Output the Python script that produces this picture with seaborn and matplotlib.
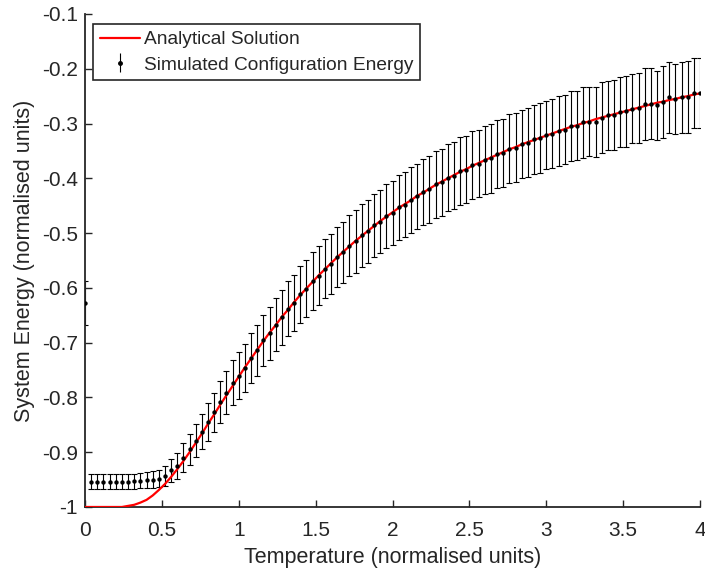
import numpy as np
import pandas as pd
import matplotlib
matplotlib.use("Agg")
import matplotlib.pyplot as plt
import seaborn as sns
from matplotlib.lines import Line2D

# ---------------- data ----------------
temps_analytic = [0.00, 0.04, 0.08, 0.12, 0.16, 0.20, 0.24, 0.28, 0.32, 0.36, 0.40,
                  0.44, 0.48, 0.52, 0.56, 0.60, 0.64, 0.68, 0.72, 0.76, 0.80,
                  0.84, 0.88, 0.92, 0.96, 1.00, 1.04, 1.08, 1.12, 1.16, 1.20,
                  1.24, 1.28, 1.32, 1.36, 1.40, 1.44, 1.48, 1.52, 1.56, 1.60,
                  1.64, 1.68, 1.72, 1.76, 1.80, 1.84, 1.88, 1.92, 1.96, 2.00,
                  2.04, 2.08, 2.12, 2.16, 2.20, 2.24, 2.28, 2.32, 2.36, 2.40,
                  2.44, 2.48, 2.52, 2.56, 2.60, 2.64, 2.68, 2.72, 2.76, 2.80,
                  2.84, 2.88, 2.92, 2.96, 3.00, 3.04, 3.08, 3.12, 3.16, 3.20,
                  3.24, 3.28, 3.32, 3.36, 3.40, 3.44, 3.48, 3.52, 3.56, 3.60,
                  3.64, 3.68, 3.72, 3.76, 3.80, 3.84, 3.88, 3.92, 3.96, 4.00]
energy_analytic = [-1.000, -1.000, -1.000, -1.000, -1.000, -1.000, -1.000, -0.998, -0.996, -0.992, -0.987,
                   -0.979, -0.969, -0.958, -0.945, -0.931, -0.916, -0.900, -0.883, -0.866, -0.848,
                   -0.831, -0.813, -0.796, -0.779, -0.762, -0.745, -0.729, -0.713, -0.697, -0.682,
                   -0.668, -0.653, -0.640, -0.626, -0.613, -0.601, -0.589, -0.577, -0.566, -0.555,
                   -0.544, -0.534, -0.524, -0.514, -0.505, -0.496, -0.487, -0.478, -0.470, -0.462,
                   -0.454, -0.447, -0.440, -0.432, -0.426, -0.419, -0.412, -0.406, -0.400, -0.394,
                   -0.388, -0.383, -0.377, -0.372, -0.367, -0.362, -0.357, -0.352, -0.347, -0.343,
                   -0.338, -0.334, -0.330, -0.326, -0.322, -0.318, -0.314, -0.310, -0.306, -0.303,
                   -0.299, -0.296, -0.292, -0.289, -0.286, -0.283, -0.280, -0.277, -0.274, -0.271,
                   -0.268, -0.265, -0.262, -0.260, -0.257, -0.255, -0.252, -0.250, -0.247, -0.245]

temps_sim = temps_analytic
energy_sim = [-0.628, -0.954, -0.954, -0.954, -0.954, -0.954, -0.954, -0.954, -0.953, -0.952, -0.951,
              -0.950, -0.948, -0.943, -0.933, -0.925, -0.910, -0.895, -0.879, -0.863, -0.845,
              -0.827, -0.808, -0.791, -0.773, -0.760, -0.746, -0.728, -0.714, -0.696, -0.683,
              -0.667, -0.654, -0.638, -0.627, -0.612, -0.602, -0.588, -0.578, -0.565, -0.556,
              -0.543, -0.535, -0.523, -0.515, -0.504, -0.497, -0.486, -0.479, -0.469, -0.463,
              -0.453, -0.448, -0.439, -0.433, -0.425, -0.420, -0.411, -0.407, -0.399, -0.395,
              -0.387, -0.384, -0.376, -0.373, -0.366, -0.363, -0.356, -0.353, -0.346, -0.344,
              -0.337, -0.335, -0.329, -0.327, -0.321, -0.319, -0.313, -0.311, -0.305, -0.304,
              -0.298, -0.297, -0.297, -0.289, -0.285, -0.284, -0.279, -0.278, -0.273, -0.272,
              -0.264, -0.264, -0.267, -0.261, -0.252, -0.255, -0.252, -0.251, -0.245, -0.244]
error_sim = [0.040, 0.014, 0.014, 0.014, 0.014, 0.014, 0.014, 0.014, 0.014, 0.014, 0.014,
             0.015, 0.016, 0.018, 0.021, 0.024, 0.026, 0.028, 0.030, 0.032, 0.034,
             0.036, 0.038, 0.039, 0.041, 0.043, 0.044, 0.045, 0.046, 0.047, 0.048,
             0.049, 0.050, 0.050, 0.051, 0.052, 0.052, 0.053, 0.054, 0.054, 0.055,
             0.055, 0.056, 0.056, 0.057, 0.057, 0.058, 0.058, 0.058, 0.059, 0.059,
             0.059, 0.060, 0.060, 0.060, 0.060, 0.061, 0.061, 0.061, 0.061, 0.061,
             0.062, 0.061, 0.062, 0.062, 0.062, 0.063, 0.062, 0.062, 0.063, 0.063,
             0.062, 0.063, 0.063, 0.064, 0.062, 0.063, 0.064, 0.063, 0.064, 0.063,
             0.064, 0.063, 0.064, 0.064, 0.063, 0.064, 0.064, 0.065, 0.063, 0.064,
             0.066, 0.065, 0.063, 0.066, 0.065, 0.064, 0.065, 0.066, 0.064, 0.064]

x_ticks = [0, 0.5, 1, 1.5, 2, 2.5, 3, 3.5, 4]
x_tick_labels = ["0", "0.5", "1", "1.5", "2", "2.5", "3", "3.5", "4"]
y_ticks = [-1, -0.9, -0.8, -0.7, -0.6, -0.5, -0.4, -0.3, -0.2, -0.1]
y_tick_labels = ["-1", "-0.9", "-0.8", "-0.7", "-0.6", "-0.5", "-0.4", "-0.3", "-0.2", "-0.1"]

df_a = pd.DataFrame({"T": temps_analytic, "E": energy_analytic})
df_s = pd.DataFrame({"T": temps_sim, "E": energy_sim, "err": error_sim})

# ---------------- style ----------------
sns.set_style("ticks")
plt.rcParams["font.family"] = ["Liberation Sans", "DejaVu Sans"]
plt.rcParams["axes.unicode_minus"] = False
dark = "#262626"

fig = plt.figure(figsize=(7.05, 5.73), dpi=100)
ax = fig.add_axes([0.1206, 0.1152, 0.8724, 0.8604])

# error bars
ax.errorbar(df_s["T"], df_s["E"], yerr=df_s["err"], fmt="none", ecolor="black",
            elinewidth=0.8, capsize=2.3, capthick=0.8, zorder=2)
# analytical line
sns.lineplot(data=df_a, x="T", y="E", color="#ff0000", linewidth=1.6, ax=ax,
             zorder=3, legend=False)
# simulated dots
sns.scatterplot(data=df_s, x="T", y="E", color="black", s=10, linewidth=0,
                ax=ax, zorder=4, legend=False)

ax.set_xlim(0, 4)
ax.set_ylim(-1, -0.1)
ax.set_xticks(x_ticks)
ax.set_xticklabels(x_tick_labels)
ax.set_yticks(y_ticks)
ax.set_yticklabels(y_tick_labels)
ax.tick_params(direction="in", length=5, width=1, colors=dark, labelsize=15,
               labelcolor=dark)
ax.tick_params(axis="x", pad=10)
ax.tick_params(axis="y", pad=5)
for side in ["top", "right"]:
    ax.spines[side].set_visible(False)
for side in ["left", "bottom"]:
    ax.spines[side].set_color(dark)
    ax.spines[side].set_linewidth(1.3)

ax.set_xlabel("Temperature (normalised units)", fontsize=15.5, color=dark, labelpad=5)
ax.set_ylabel("System Energy (normalised units)", fontsize=15.5, color=dark, labelpad=5)

# legend
h_line = Line2D([0], [0], color="#ff0000", linewidth=1.6)
h_err = ax.errorbar([], [], yerr=[], fmt="o", color="black", markersize=2.5,
                    elinewidth=0.8, capsize=3.2, capthick=0.8)
leg = ax.legend([h_line, h_err], ["Analytical Solution", "Simulated Configuration Energy"],
                loc="upper left", bbox_to_anchor=(0.0135, 0.979), fontsize=13.8,
                frameon=True, fancybox=False, edgecolor=dark, framealpha=1,
                borderpad=0.35, handlelength=2.1, handletextpad=0.2, labelspacing=0.4,
                borderaxespad=0)
leg.get_frame().set_linewidth(1.2)

fig.savefig("out.png", dpi=100)
